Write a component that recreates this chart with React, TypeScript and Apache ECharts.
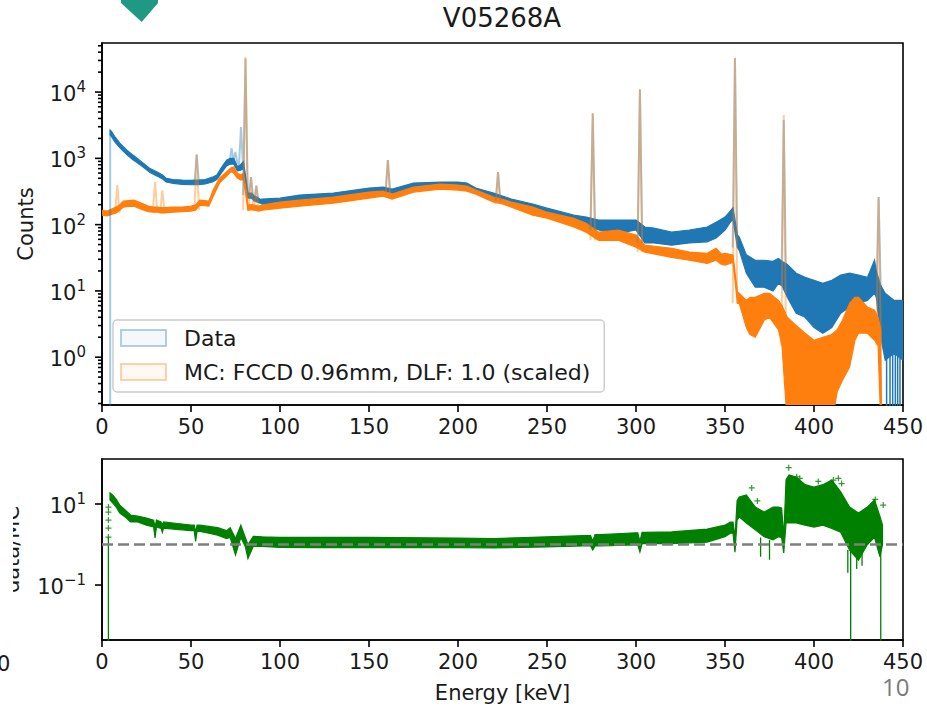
import React, { useEffect, useRef } from "react";
import * as echarts from "echarts";

// ---------- axes ----------
const energyMin = 0;
const energyMax = 450;
const energyStep = 50;
const countsMin = 0.19;
const countsMax = 55000;
const ratioMin = 0.0044;
const ratioMax = 129;
const ratioRef = 1;
const countsLabelExps = [0, 1, 2, 3, 4];
const ratioLabelExps = [-1, 1];
const countsMajorTicks = [1, 10, 100, 1000, 10000];
const countsMinorTicks = [
  0.2, 0.3, 0.4, 0.5, 0.6, 0.7, 0.8, 0.9,
  2, 3, 4, 5, 6, 7, 8, 9,
  20, 30, 40, 50, 60, 70, 80, 90,
  200, 300, 400, 500, 600, 700, 800, 900,
  2000, 3000, 4000, 5000, 6000, 7000, 8000, 9000,
  20000, 30000, 40000, 50000,
];
const ratioMajorTicks = [0.1, 10];

// ---------- Data spectrum: [energy keV, upper envelope, lower envelope] ----------
const dataBand: number[][] = [
  [4.6, 2670, 2250], [5.5, 2500, 2100], [7.3, 2100, 1750], [10, 1700, 1450], [14, 1330, 1130],
  [17.4, 1120, 950], [22, 900, 780], [27, 700, 610], [31, 620, 540], [34, 560, 490],
  [36, 500, 440], [40, 480, 420], [45, 470, 405], [50, 465, 400], [52.5, 470, 400],
  [54, 470, 400], [58, 480, 410], [62, 520, 440], [64.5, 560, 480], [67, 720, 600],
  [70, 940, 770], [72, 1000, 820], [74, 1000, 820], [76, 760, 650], [77.5, 780, 660],
  [79.5, 900, 700], [82, 300, 250], [84, 300, 250], [85.5, 270, 230], [87, 260, 220],
  [89, 240, 210], [90, 243, 204], [100, 251, 211], [111, 279, 226], [130, 299, 251],
  [150, 356, 299], [158, 368, 310], [163, 344, 279], [175, 423, 356], [190, 438, 381],
  [200, 438, 368], [205, 423, 356], [210, 356, 310], [220, 299, 251], [225, 270, 230],
  [230, 243, 211], [242, 204, 160], [250, 177, 139], [265, 139, 109], [272, 130, 98],
  [279, 117, 83], [290, 117, 74], [300, 117, 83], [305, 92, 53], [310, 89, 53],
  [320, 77, 49], [330, 83, 53], [340, 92, 55], [345, 109, 63], [350, 130, 83],
  [353, 160, 109], [354.5, 180, 120], [357, 70, 45], [358, 65, 41], [362, 35, 18.5],
  [367, 29, 11.4], [372, 29, 11.4], [377, 28, 10], [380, 31, 13], [382, 28, 12],
  [385, 25, 8], [390, 18.5, 4.6], [395, 16, 4], [400, 14.5, 2.8], [405, 13, 2.3],
  [410, 14.5, 2.8], [415, 17.3, 4.6], [420, 18.5, 5.7], [425, 17.3, 6.5], [430, 16, 7.2],
  [434, 29, 9.2], [435, 20, 8], [437.5, 12, 2], [440, 9.2, 0.9], [445, 7.2, 1.15],
  [450, 7.2, 0.9],
];
// gamma lines in Data: [energy, peak counts, foot counts]
const dataPeaks: number[][] = [
  [53.2, 1150, 400], [72.8, 1430, 820], [74.9, 1250, 820], [78.1, 2960, 650],
  [80.6, 32000, 280], [83.7, 520, 250], [86.7, 390, 220], [160.6, 940, 310],
  [222.5, 620, 230], [275.7, 4800, 83], [302.2, 11000, 53], [355.6, 32500, 45],
  [383, 3800, 12], [436.3, 260, 8],
];
// threshold onset of Data: [energy, top]
const dataOnset = [4.6, 2670];
// empty bins in Data: [energy, top, bottom]
const dataDrops: number[][] = [
  [440.8, 1.3, 0.1], [442.7, 1.3, 0.1], [444.2, 1.5, 0.1], [445.7, 1.3, 0.1], [447, 1.2, 0.1], [448.3, 1.3, 0.1],
];

// ---------- MC spectrum ----------
const mcBand: number[][] = [
  [0, 165, 139], [3, 160, 135], [6, 175, 145], [8, 185, 150], [10, 200, 165],
  [12, 226, 184], [15, 230, 188], [18, 234, 190], [22, 211, 171], [26, 190, 157],
  [29, 184, 154], [31, 184, 154], [33, 180, 150], [35, 180, 150], [40, 184, 154],
  [45, 184, 157], [50, 190, 160], [52.5, 197, 165], [55, 234, 197], [60, 226, 190],
  [62.5, 332, 269], [66, 503, 423], [70, 630, 540], [72.5, 720, 630], [74, 740, 600],
  [76, 600, 503], [78, 560, 470], [79.5, 600, 480], [82, 197, 165], [84, 200, 168],
  [86, 195, 165], [88, 190, 160], [90, 197, 165], [100, 219, 177], [111, 234, 190],
  [130, 260, 211], [150, 310, 251], [158, 320, 269], [163, 289, 243], [175, 368, 310],
  [190, 409, 344], [200, 395, 332], [205, 381, 320], [210, 332, 289], [220, 260, 219],
  [225, 240, 205], [230, 219, 184], [242, 184, 139], [250, 154, 125], [265, 125, 92],
  [272, 105, 77], [279, 77, 58], [290, 83, 58], [300, 69.5, 45.8], [305, 49, 38.5],
  [320, 44, 32], [330, 38.5, 29], [340, 37, 26], [345, 44, 29], [348, 36, 25],
  [350, 37, 24.5], [354.5, 34.7, 27], [357, 9.5, 6.5], [358, 9.2, 6.5], [362, 7.2, 2.8],
  [364, 8, 2.2], [367, 8, 2.0], [372, 9.2, 3.6], [375, 9.2, 4], [380, 7.2, 2.6],
  [382, 6, 1.5], [385, 4, 0.1], [390, 3.0, 0.1], [395, 2.3, 0.1], [400, 1.8, 0.1],
  [405, 2.0, 0.1], [410, 2.2, 0.1], [413, 2.6, 0.3], [416, 3.6, 0.45], [420, 6.5, 0.71],
  [423, 8, 1.8], [425, 8, 2.3], [430, 5.7, 2.3], [434, 5.1, 1.8], [436, 4, 1.5],
  [437.5, 2.6, 0.1], [438, 0.1, 0.1],
];
const mcPeaks: number[][] = [
  [8.6, 395, 150], [29.8, 440, 154], [33.9, 330, 150], [53.2, 1120, 165],
  [80.6, 34000, 165], [83.7, 520, 165], [86.7, 380, 160], [160.6, 940, 269],
  [222.5, 620, 205], [275.7, 4800, 58], [302.2, 11000, 38.5], [355.6, 33000, 6.5],
  [383, 4500, 1.5], [436.3, 260, 1.5],
];

// ---------- ratio data/MC ----------
const ratioBand: number[][] = [
  [4.5, 18.7, 12.6], [6, 16.7, 10.6], [8, 13, 8.4], [10, 9.4, 6.0], [13, 7.1, 4.8],
  [16, 5.35, 3.6], [20, 5.0, 3.6], [25, 4.5, 3.0], [29, 4.0, 2.7], [29.8, 2.7, 1.45],
  [30.6, 4.0, 2.7], [33.2, 3.6, 2.5], [33.9, 3.0, 2.0], [34.6, 3.6, 2.55], [40, 3.4, 2.4],
  [45, 3.2, 2.3], [50, 3.0, 2.2], [51.8, 3.0, 2.2], [52.6, 2.0, 1.2], [53.4, 3.0, 2.1],
  [55, 3.0, 2.1], [60, 2.8, 1.9], [65, 2.6, 1.7], [70, 2.2, 1.4], [72, 2.6, 1.5],
  [75, 1.4, 0.55], [78, 3.0, 1.5], [80.5, 1.5, 0.9], [82, 1.0, 0.45], [85, 1.6, 0.9],
  [90, 1.55, 0.9], [100, 1.5, 0.85], [120, 1.5, 0.84], [150, 1.5, 0.84], [200, 1.45, 0.84],
  [220, 1.4, 0.82], [250, 1.55, 0.87], [270, 1.65, 0.92], [274.5, 1.65, 0.92], [275.7, 1.2, 0.73],
  [277, 1.75, 0.92], [280, 1.75, 0.92], [300, 1.95, 0.98], [301, 1.95, 0.98], [302.2, 1.2, 0.65],
  [303.4, 2.0, 1.05], [305, 2.0, 1.05], [320, 2.05, 1.05], [340, 2.4, 1.15], [350, 3.0, 1.55],
  [353, 3.6, 1.9], [354.5, 3.6, 1.9], [355.6, 1.5, 0.65], [356.8, 12, 4], [358, 14.9, 4.8],
  [362, 16.7, 3.4], [367, 8.4, 2.3], [372, 6.3, 1.55], [377, 8.4, 1.3], [380, 8.4, 1.55],
  [381.8, 8, 1.5], [383, 1.5, 0.62], [384.3, 40, 3.4], [386, 52, 3.4], [390, 46, 3.4],
  [395, 30, 3.0], [400, 26, 2.7], [405, 30, 3.0], [410, 39, 2.5], [415, 20, 2.0],
  [420, 8.4, 0.73], [425, 6.0, 0.41], [430, 8.4, 1.0], [434, 12.6, 1.5], [437, 5, 0.5],
  [438.5, 3, 1],
];
const ratioPoints: number[][] = [
  [3.6, 8.4], [3.6, 6.3], [3.6, 4.0], [3.6, 2.55], [3.6, 1.53],
  [365, 25], [368.2, 11.9], [385.8, 79], [390.3, 47], [392, 43], [402.4, 36], [410.9, 39],
  [413.7, 43], [415.5, 32], [434.4, 13], [438.9, 9.4],
];
const ratioDrops: number[][] = [
  [3.6, 1.53, 0.001], [370, 1.5, 0.5], [375, 1.3, 0.42], [419, 0.73, 0.2], [420.6, 0.73, 0.001],
  [424, 0.6, 0.25], [427, 0.7, 0.3], [437.5, 2.0, 0.001],
];

// ---------- style ----------
const FONT = "'DejaVu Sans', sans-serif";
const TXT = "#1a1a1a";
const BLUE = "#1f77b4";
const ORANGE = "#ff7f0e";
const GREEN = "#008000";
const PEAK_HW = 1.3;
const DATA_NAME = "Data";
const MC_NAME = "MC: FCCD 0.96mm, DLF: 1.0 (scaled)";

function powFormatter(exps: number[]) {
  return (v: number) => {
    const l = Math.log10(v);
    const r = Math.round(l);
    if (Math.abs(l - r) > 1e-6 || exps.indexOf(r) < 0) return "";
    return `{b|10}{s|${r < 0 ? "\u2212" + -r : r}}`;
  };
}
const richPow = {
  b: { fontSize: 21, fontFamily: FONT, color: TXT, verticalAlign: "bottom" },
  s: { fontSize: 15, fontFamily: FONT, color: TXT, verticalAlign: "bottom", padding: [0, 0, 10, 0] },
};

function bandSeries(name: string, rows: number[][], color: string, gi: number, z: number) {
  return {
    type: "custom",
    name,
    xAxisIndex: gi,
    yAxisIndex: gi,
    z,
    silent: true,
    clip: true,
    data: rows.map((r) => [r[0], r[1], r[2]]),
    encode: { x: 0, y: [1, 2] },
    renderItem: (params: any, api: any) => {
      if (params.dataIndexInside !== 0) return null;
      const n = params.dataInsideLength;
      const up: number[][] = [];
      const dn: number[][] = [];
      for (let i = 0; i < n; i++) {
        const e = api.value(0, i);
        up.push(api.coord([e, api.value(1, i)]));
        dn.push(api.coord([e, api.value(2, i)]));
      }
      dn.reverse();
      return {
        type: "polygon",
        shape: { points: up.concat(dn) },
        style: { fill: color, stroke: color, lineWidth: 1.2 },
      };
    },
  };
}

function spikeData(peaks: number[][]) {
  const out: any[] = [];
  for (const [e, h, b] of peaks) {
    out.push([e - PEAK_HW, b], [e, h], [e + PEAK_HW, b], [e + PEAK_HW, "-"]);
  }
  return out;
}
function dropData(drops: number[][]) {
  const out: any[] = [];
  for (const [e, top, bottom] of drops) {
    out.push([e, bottom], [e, top], [e, "-"]);
  }
  return out;
}

function lineSeries(name: string, data: any[], color: string, width: number, opacity: number, gi: number, z: number, extra: any = {}) {
  return {
    type: "line",
    name,
    xAxisIndex: gi,
    yAxisIndex: gi,
    data,
    z,
    silent: true,
    symbol: "none",
    showSymbol: false,
    connectNulls: false,
    clip: true,
    lineStyle: { color, width, opacity, ...extra },
    emphasis: { disabled: true },
  };
}

function tickSeries(vals: number[], len: number, gi: number) {
  return {
    type: "custom",
    xAxisIndex: gi,
    yAxisIndex: gi,
    silent: true,
    clip: false,
    z: 20,
    data: vals.map((v) => [energyMin, v]),
    renderItem: (params: any, api: any) => {
      const p = api.coord([api.value(0), api.value(1)]);
      return {
        type: "line",
        shape: { x1: p[0] - len, y1: p[1], x2: p[0], y2: p[1] },
        style: { stroke: "#000", lineWidth: 1.6 },
      };
    },
  };
}

function xAxis(gi: number, name?: string) {
  return {
    type: "value",
    gridIndex: gi,
    min: energyMin,
    max: energyMax,
    interval: energyStep,
    axisLine: { show: true, onZero: false, lineStyle: { color: "#000", width: 1.6 } },
    axisTick: { show: true, length: 7, lineStyle: { color: "#000", width: 1.6 } },
    axisLabel: { fontSize: 21, fontFamily: FONT, color: TXT, margin: 11 },
    splitLine: { show: false },
    name,
    nameLocation: "middle",
    nameGap: 42,
    nameTextStyle: { fontSize: 21, fontFamily: FONT, color: TXT },
  };
}

function yAxis(gi: number, min: number, max: number, exps: number[], name: string, gap: number) {
  return {
    type: "log",
    logBase: 10,
    gridIndex: gi,
    min,
    max,
    axisLine: { show: true, onZero: false, lineStyle: { color: "#000", width: 1.6 } },
    axisTick: { show: false },
    minorTick: { show: false },
    splitLine: { show: false },
    axisLabel: { formatter: powFormatter(exps), rich: richPow, margin: 16, showMinLabel: true, showMaxLabel: true },
    name,
    nameLocation: "middle",
    nameGap: gap,
    nameRotate: 90,
    nameTextStyle: { fontSize: 21, fontFamily: FONT, color: TXT },
  };
}

export default function App() {
  const ref = useRef<HTMLDivElement>(null);
  useEffect(() => {
    if (!ref.current) return;
    const chart = echarts.init(ref.current, null, { renderer: "svg" });
    const option: any = {
      animation: false,
      backgroundColor: "#ffffff",
      grid: [
        { left: 102, top: 43, width: 801, height: 362, show: true, borderColor: "#000", borderWidth: 1.6, backgroundColor: "transparent", containLabel: false, outerBoundsMode: "none" },
        { left: 102, top: 459, width: 801, height: 181, show: true, borderColor: "#000", borderWidth: 1.6, backgroundColor: "transparent", containLabel: false, outerBoundsMode: "none" },
      ],
      xAxis: [xAxis(0), xAxis(1, "Energy [keV]")],
      yAxis: [
        yAxis(0, countsMin, countsMax, countsLabelExps, "Counts", 66),
        yAxis(1, ratioMin, ratioMax, ratioLabelExps, "data/MC", 80),
      ],
      legend: {
        orient: "vertical",
        left: 113,
        top: 320,
        itemWidth: 45,
        itemHeight: 16,
        itemGap: 12,
        padding: [7, 14, 9, 7],
        borderColor: "#cccccc",
        borderWidth: 1.5,
        borderRadius: 4,
        backgroundColor: "rgba(255,255,255,0.8)",
        selectedMode: false,
        textStyle: { fontSize: 22, fontFamily: FONT, color: TXT, lineHeight: 22, padding: [0, 0, 0, 13] },
        data: [
          { name: DATA_NAME, icon: "rect", itemStyle: { color: "rgba(31,119,180,0.05)", borderColor: "rgba(31,119,180,0.35)", borderWidth: 2 } },
          { name: MC_NAME, icon: "rect", itemStyle: { color: "rgba(255,127,14,0.05)", borderColor: "rgba(255,127,14,0.35)", borderWidth: 2 } },
        ],
      },
      series: [
        bandSeries(DATA_NAME, dataBand, BLUE, 0, 2),
        bandSeries(MC_NAME, mcBand, ORANGE, 0, 3),
        lineSeries("Data bins", dropData(dataDrops), BLUE, 1.5, 1, 0, 3),
        lineSeries("Data lines", [[dataOnset[0], countsMin * 0.5], [dataOnset[0], dataOnset[1]], [dataOnset[0], "-"], ...spikeData(dataPeaks)], BLUE, 2, 0.4, 0, 4),
        lineSeries("MC lines", spikeData(mcPeaks), ORANGE, 2, 0.4, 0, 5),
        tickSeries(countsMajorTicks, 7, 0),
        tickSeries(countsMinorTicks, 4, 0),

        bandSeries("ratio", ratioBand, GREEN, 1, 2),
        lineSeries("ratio errors", dropData(ratioDrops), GREEN, 1.3, 1, 1, 3),
        {
          type: "scatter",
          name: "ratio points",
          xAxisIndex: 1,
          yAxisIndex: 1,
          silent: true,
          z: 4,
          symbol: "path://M4,0h2v4h4v2h-4v4h-2v-4h-4v-2h4z",
          symbolSize: 6,
          itemStyle: { color: GREEN },
          data: ratioPoints,
        },
        lineSeries("unity", [[energyMin, ratioRef], [energyMax, ratioRef]], "#7f7f7f", 2.5, 1, 1, 6, { type: [11, 5] }),
        tickSeries(ratioMajorTicks, 7, 1),
      ],
      graphic: [
        {
          type: "polygon",
          z: 50,
          shape: { points: [[121, 0], [158, 0], [158, 3], [141.7, 22], [121, 3]] },
          style: { fill: "#1f9983" },
        },
        {
          type: "text",
          z: 50,
          x: 502,
          y: 18,
          style: { text: "V05268A", fontSize: 26, fontFamily: FONT, fill: TXT, align: "center", verticalAlign: "middle" },
        },
        {
          type: "rect",
          z: 60,
          shape: { x: 0, y: 470, width: 13, height: 160 },
          style: { fill: "#ffffff" },
        },
        {
          type: "text",
          z: 61,
          x: -3,
          y: 664,
          style: { text: "0", fontSize: 21, fontFamily: FONT, fill: TXT, align: "left", verticalAlign: "middle" },
        },
        {
          type: "text",
          z: 61,
          x: 882,
          y: 686,
          style: { text: "10", fontSize: 24, fontFamily: "'Open Sans', sans-serif", fill: "#7a7a7a", align: "left", verticalAlign: "middle" },
        },
      ],
    };
    chart.setOption(option);
    return () => chart.dispose();
  }, []);
  return (
    <div
      ref={ref}
      style={{ position: "absolute", left: 0, top: 0, width: 927, height: 709, background: "#ffffff" }}
    />
  );
}
